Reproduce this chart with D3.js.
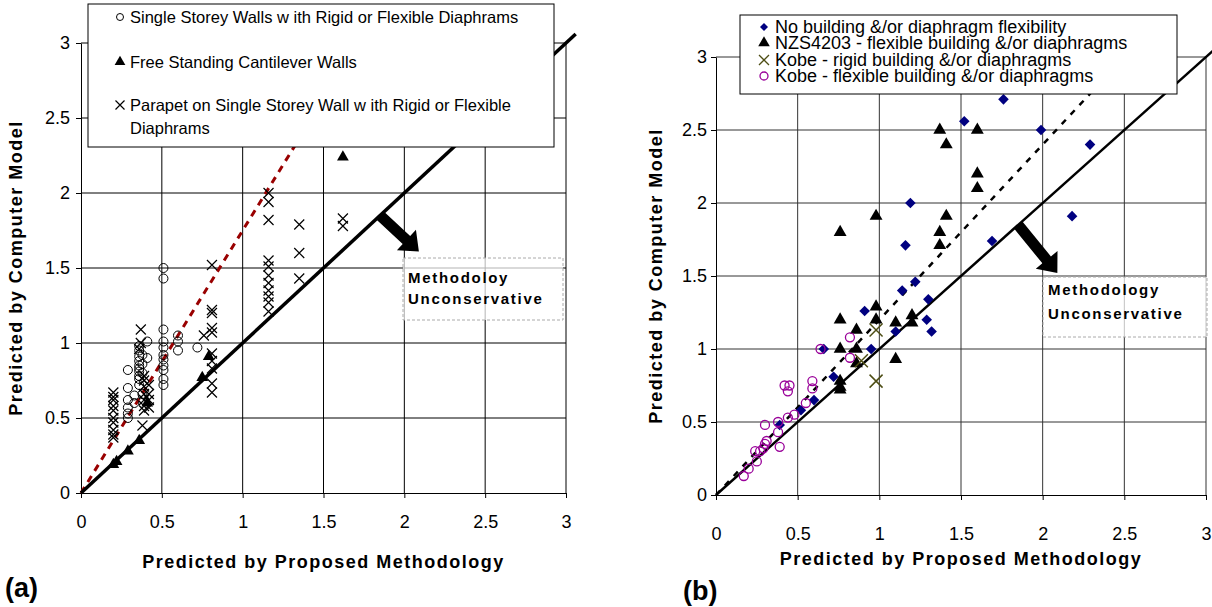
<!DOCTYPE html>
<html>
<head>
<meta charset="utf-8">
<script src="https://cdn.jsdelivr.net/npm/d3@7"></script>
<style>
  body { margin: 0; background: #fff; }
  svg { display: block; }
  text { font-family: "Liberation Sans", Arial, sans-serif; fill: #000; }
</style>
</head>
<body>
<svg id="chart" width="1212" height="607"></svg>
<script>
// ---- data ----
var tickValues = [0, 0.5, 1, 1.5, 2, 2.5, 3];
var oneToOne = [[0, 0], [3.06, 3.06]];

// panel (a)
var aLegendLabels = [
  "Single Storey Walls w ith Rigid or Flexible Diaphrams",
  "Free Standing Cantilever Walls",
  "Parapet on Single Storey Wall w ith Rigid or Flexible",
  "Diaphrams"
];
var aSingleStorey = [
  [0.29,0.82],[0.29,0.70],[0.29,0.62],[0.29,0.57],[0.29,0.53],[0.29,0.50],
  [0.33,0.65],[0.33,0.60],
  [0.36,0.98],[0.36,0.95],[0.36,0.91],[0.36,0.88],[0.36,0.85],[0.36,0.83],[0.36,0.81],[0.36,0.78],[0.36,0.76],[0.36,0.72],
  [0.38,0.92],[0.38,0.86],[0.38,0.80],[0.38,0.66],
  [0.41,1.01],[0.41,0.90],
  [0.51,1.50],[0.51,1.43],[0.51,1.09],[0.51,1.01],[0.51,0.97],[0.51,0.92],[0.51,0.89],[0.51,0.85],[0.51,0.82],[0.51,0.76],[0.51,0.72],
  [0.60,1.05],[0.60,1.01],[0.60,0.95],
  [0.72,0.97]
];
var aCantilever = [
  [0.20,0.19],[0.22,0.21],[0.29,0.28],[0.36,0.35],[0.41,0.60],[0.75,0.77],[0.79,0.91],[1.62,2.24]
];
var aParapet = [
  [0.20,0.67],[0.20,0.64],[0.20,0.62],[0.20,0.58],[0.20,0.55],[0.20,0.50],[0.20,0.47],[0.20,0.42],[0.20,0.39],[0.20,0.37],
  [0.37,1.09],[0.37,1.00],[0.36,0.96],
  [0.39,0.78],[0.39,0.75],[0.39,0.71],[0.39,0.66],[0.39,0.62],[0.39,0.58],[0.39,0.55],[0.38,0.45],
  [0.42,0.72],[0.42,0.66],[0.42,0.62],[0.42,0.57],
  [0.76,1.05],
  [0.81,1.52],[0.81,1.22],[0.81,1.20],[0.81,1.10],[0.81,1.07],[0.81,0.93],[0.81,0.88],[0.81,0.83],[0.81,0.73],[0.81,0.67],
  [1.16,2.00],[1.16,1.94],[1.16,1.82],[1.16,1.55],[1.16,1.51],[1.16,1.45],[1.16,1.40],[1.16,1.35],[1.16,1.31],[1.16,1.27],[1.16,1.21],
  [1.35,1.79],[1.35,1.60],[1.35,1.43],
  [1.62,1.83],[1.62,1.78]
];
var aTrend = [[0, 0], [1.714, 3]];
var aArrow = [[1.85, 1.85], [2.09, 1.61]];
var aNote = ["Methodoloy", "Unconservative"];

// panel (b)
var bLegendLabels = [
  "No building &/or diaphragm flexibility",
  "NZS4203 - flexible building &/or diaphragms",
  "Kobe - rigid building &/or diaphragms",
  "Kobe - flexible building &/or diaphragms"
];
var bNoFlex = [
  [1.76,2.71],[1.52,2.56],[1.99,2.50],[2.29,2.40],[1.19,2.00],[2.18,1.91],[1.16,1.71],[1.69,1.74],
  [1.22,1.46],[1.14,1.40],[1.30,1.34],[0.91,1.26],[1.29,1.20],[1.32,1.12],[1.10,1.12],[0.95,1.00],
  [0.66,1.00],[0.72,0.81],[0.60,0.65],[0.52,0.58],[0.39,0.48]
];
var bNzs = [
  [1.37,2.50],[1.60,2.50],[1.41,2.40],[1.60,2.20],[1.60,2.10],[0.98,1.91],[1.41,1.91],[0.76,1.80],
  [1.37,1.80],[1.37,1.71],[0.98,1.29],[0.98,1.20],[0.76,1.20],[0.86,1.13],[1.10,1.18],[1.20,1.23],
  [1.20,1.18],[0.76,1.00],[0.86,1.00],[1.10,0.93],[0.86,0.90],[0.76,0.78],[0.76,0.74],[0.76,0.72]
];
var bKobeRigid = [[0.98,1.13],[0.89,0.92],[0.98,0.78]];
var bKobeFlex = [
  [0.64,1.00],[0.82,1.08],[0.82,0.94],[0.42,0.75],[0.45,0.75],[0.44,0.71],[0.59,0.78],[0.59,0.73],
  [0.55,0.63],[0.48,0.55],[0.44,0.53],[0.38,0.50],[0.30,0.48],[0.38,0.43],[0.39,0.33],[0.30,0.35],
  [0.31,0.37],[0.29,0.32],[0.24,0.30],[0.27,0.30],[0.25,0.23],[0.20,0.18],[0.17,0.13]
];
var bTrend = [[0, 0], [2.45, 2.94]];
var bArrow = [[1.85, 1.85], [2.09, 1.52]];
var bNote = ["Methodology", "Unconservative"];

var xTitle = "Predicted by Proposed Methodology";
var yTitle = "Predicted by Computer Model";

// ---- helpers ----
var svg = d3.select("#chart");

function crossPath(s) {
  return function (d) {
    return "M" + (d[0] - s) + "," + (d[1] - s) + "L" + (d[0] + s) + "," + (d[1] + s) +
           "M" + (d[0] - s) + "," + (d[1] + s) + "L" + (d[0] + s) + "," + (d[1] - s);
  };
}

function blockArrow(p0, p1, sw, hw, hl) {
  var dx = p1[0] - p0[0], dy = p1[1] - p0[1];
  var len = Math.sqrt(dx * dx + dy * dy);
  var ux = dx / len, uy = dy / len, nx = -uy, ny = ux;
  var bx = p1[0] - ux * hl, by = p1[1] - uy * hl;
  var pts = [
    [p0[0] + nx * sw / 2, p0[1] + ny * sw / 2],
    [bx + nx * sw / 2, by + ny * sw / 2],
    [bx + nx * hw / 2, by + ny * hw / 2],
    p1,
    [bx - nx * hw / 2, by - ny * hw / 2],
    [bx - nx * sw / 2, by - ny * sw / 2],
    [p0[0] - nx * sw / 2, p0[1] - ny * sw / 2]
  ];
  return "M" + pts.map(function (p) { return p.join(","); }).join("L") + "Z";
}

function styleMarker(sel, s) {
  if (s.shape === "circle") {
    sel.attr("d", d3.arc()({innerRadius: 0, outerRadius: s.size, startAngle: 0, endAngle: 2 * Math.PI}))
      .attr("transform", function (d) { return "translate(" + d[0] + "," + d[1] + ")"; })
      .attr("fill", "none").attr("stroke", s.color).attr("stroke-width", s.stroke || 1);
  } else if (s.shape === "cross") {
    sel.attr("d", crossPath(s.size)).attr("fill", "none").attr("stroke", s.color).attr("stroke-width", s.stroke || 1.2);
  } else if (s.shape === "triangle") {
    sel.attr("d", d3.symbol().type(d3.symbolTriangle).size(s.size))
      .attr("transform", function (d) { return "translate(" + d[0] + "," + d[1] + ")"; })
      .attr("fill", s.color);
  } else if (s.shape === "diamond") {
    sel.attr("d", d3.symbol().type(d3.symbolSquare).size(s.size))
      .attr("transform", function (d) { return "translate(" + d[0] + "," + d[1] + ") rotate(45)"; })
      .attr("fill", s.color);
  }
}

function drawPanel(o) {
  var g = svg.append("g");
  var x = d3.scaleLinear().domain([0, 3]).range(o.xRange);
  var y = d3.scaleLinear().domain([0, 3]).range(o.yRange);
  var line = d3.line().x(function (d) { return x(d[0]); }).y(function (d) { return y(d[1]); });

  // gridlines
  g.append("g").selectAll("line").data(tickValues.slice(1)).enter().append("line")
    .attr("x1", function (d) { return x(d); }).attr("x2", function (d) { return x(d); })
    .attr("y1", y(0)).attr("y2", y(3))
    .attr("stroke", o.gridColor).attr("stroke-width", 1);
  g.append("g").selectAll("line").data(tickValues.slice(1)).enter().append("line")
    .attr("y1", function (d) { return y(d); }).attr("y2", function (d) { return y(d); })
    .attr("x1", x(0)).attr("x2", x(3))
    .attr("stroke", o.gridColor).attr("stroke-width", 1);

  // axes
  var fmt = function (d) { return String(d); };
  var ya = g.append("g").attr("transform", "translate(" + x(0) + ",0)")
    .call(d3.axisLeft(y).tickValues(tickValues).tickFormat(fmt).tickSizeInner(5).tickSizeOuter(0).tickPadding(o.yPad));
  var xa = g.append("g").attr("transform", "translate(0," + y(0) + ")")
    .call(d3.axisBottom(x).tickValues(tickValues).tickFormat(fmt).tickSizeInner(5).tickSizeOuter(0).tickPadding(o.xPad));
  [ya, xa].forEach(function (a) {
    a.selectAll("text").style("font-size", "18px").style("font-family", "'Liberation Sans', Arial, sans-serif").attr("fill", "#000");
    a.selectAll("line, path").attr("stroke", "#000");
  });

  // reference lines
  g.append("path").attr("d", line(o.trend)).attr("fill", "none")
    .attr("stroke", o.trendColor).attr("stroke-width", o.trendWidth).attr("stroke-dasharray", o.trendDash);
  g.append("path").attr("d", line(oneToOne)).attr("fill", "none")
    .attr("stroke", "#000").attr("stroke-width", o.lineWidth);

  // series
  o.series.forEach(function (s) {
    var pts = s.data.map(function (d) { return [x(d[0]), y(d[1])]; });
    var sel = g.append("g").selectAll("path").data(pts).enter().append("path");
    styleMarker(sel, s);
  });

  // arrow + note
  var a0 = [x(o.arrow[0][0]), y(o.arrow[0][1])], a1 = [x(o.arrow[1][0]), y(o.arrow[1][1])];
  g.append("path").attr("d", blockArrow(a0, a1, 11, 28, 17)).attr("fill", "#000");
  g.append("rect").attr("x", o.noteBox[0]).attr("y", o.noteBox[1])
    .attr("width", o.noteBox[2]).attr("height", o.noteBox[3])
    .attr("fill", "#fff").attr("fill-opacity", 0.7)
    .attr("stroke", "#aaa").attr("stroke-dasharray", "3,2");
  g.selectAll("text.note").data(o.note).enter().append("text")
    .attr("x", o.noteBox[0] + 5).attr("y", function (d, i) { return o.noteY[i]; })
    .style("font-size", "15px").style("font-weight", "bold").style("letter-spacing", "1.7px")
    .text(function (d) { return d; });

  // legend
  var lg = g.append("g");
  lg.append("rect").attr("x", o.legendBox[0]).attr("y", o.legendBox[1])
    .attr("width", o.legendBox[2]).attr("height", o.legendBox[3])
    .attr("fill", "#fff").attr("stroke", "#000").attr("stroke-width", 1);
  o.legendLabels.forEach(function (t, i) {
    lg.append("text").attr("x", o.legendTextX).attr("y", o.legendY[i])
      .style("font-size", o.legendFont + "px").text(t);
    var s = o.series[i];
    if (s) {
      var m = lg.append("g").selectAll("path").data([[o.legendMarkX, o.legendY[i] - 6]]).enter().append("path");
      styleMarker(m, s.legend);
    }
  });

  // titles
  g.append("text").attr("x", (o.xRange[0] + o.xRange[1]) / 2).attr("y", o.xTitleY)
    .attr("text-anchor", "middle").style("font-size", "18px").style("font-weight", "bold")
    .style("letter-spacing", "1.5px").text(xTitle);
  g.append("text")
    .attr("transform", "translate(" + o.yTitleX + "," + (o.yRange[0] + o.yRange[1]) / 2 + ") rotate(-90)")
    .attr("text-anchor", "middle").style("font-size", "18px").style("font-weight", "bold")
    .style("letter-spacing", "1.5px").text(yTitle);
  g.append("text").attr("x", o.tag[0]).attr("y", o.tag[1])
    .style("font-size", "27px").style("font-weight", "bold").text(o.tag[2]);
}

// ---- panel (a) ----
drawPanel({
  xRange: [81, 566], yRange: [493, 43],
  gridColor: "#000", yPad: 6, xPad: 17,
  trend: aTrend, trendColor: "#990000", trendWidth: 3, trendDash: "7,6", lineWidth: 3.5,
  series: [
    {data: aSingleStorey, shape: "circle", size: 4.5, color: "#000", stroke: 1, legend: {shape: "circle", size: 3.5, color: "#000"}},
    {data: aCantilever, shape: "triangle", size: 60, color: "#000", legend: {shape: "triangle", size: 50, color: "#000"}},
    {data: aParapet, shape: "cross", size: 5, color: "#000", stroke: 1.2, legend: {shape: "cross", size: 4.5, color: "#000", stroke: 1.2}}
  ],
  arrow: aArrow, noteBox: [403, 258, 160, 62], noteY: [283, 304], note: aNote,
  legendBox: [88, 4, 466, 143], legendLabels: aLegendLabels,
  legendY: [23, 68, 111, 134], legendTextX: 130, legendMarkX: 120, legendFont: 16.5,
  xTitleY: 568, yTitleX: 22, tag: [5, 597, "(a)"]
});

// ---- panel (b) ----
drawPanel({
  xRange: [716, 1206], yRange: [495, 57],
  gridColor: "#333", yPad: 4, xPad: 27,
  trend: bTrend, trendColor: "#000", trendWidth: 2.5, trendDash: "6,7", lineWidth: 2.5,
  series: [
    {data: bNoFlex, shape: "diamond", size: 56, color: "#000080", legend: {shape: "diamond", size: 32, color: "#000080"}},
    {data: bNzs, shape: "triangle", size: 72, color: "#000", legend: {shape: "triangle", size: 58, color: "#000"}},
    {data: bKobeRigid, shape: "cross", size: 6.5, color: "#4d4d14", stroke: 1.5, legend: {shape: "cross", size: 5, color: "#4d4d14", stroke: 1.3}},
    {data: bKobeFlex, shape: "circle", size: 4.5, color: "#990099", stroke: 1.3, legend: {shape: "circle", size: 4, color: "#990099", stroke: 1.3}}
  ],
  arrow: bArrow, noteBox: [1043, 277, 164, 60], noteY: [295, 319], note: bNote,
  legendBox: [740, 15, 437, 79], legendLabels: bLegendLabels,
  legendY: [33, 49, 66, 82], legendTextX: 775, legendMarkX: 764, legendFont: 18,
  xTitleY: 565, yTitleX: 662, tag: [683, 600, "(b)"]
});
</script>
</body>
</html>
